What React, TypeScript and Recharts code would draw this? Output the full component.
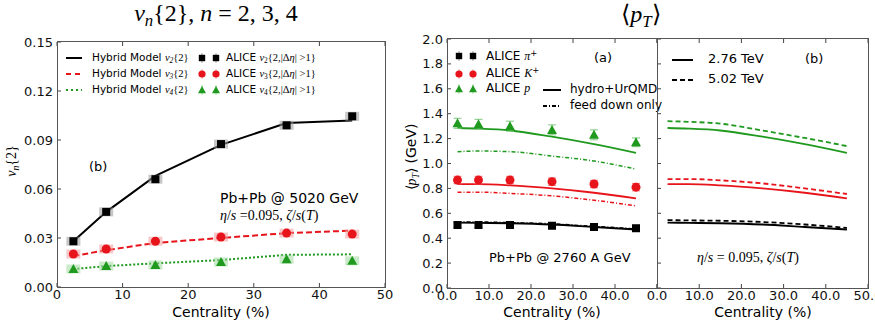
import React from "react"
import { ComposedChart, Line, Scatter, XAxis, YAxis, ErrorBar } from "recharts"

// centrality bins (%)
const centrality = [2.5, 7.5, 15, 25, 35, 45]

// left panel: v_n{2}, Pb+Pb 5020 GeV
const aliceV2 = [0.028, 0.046, 0.066, 0.0875, 0.099, 0.1045]
const aliceV3 = [0.0202, 0.0233, 0.028, 0.0306, 0.033, 0.0324]
const aliceV4 = [0.011, 0.0128, 0.0135, 0.0153, 0.017, 0.016]
const hybridV2 = [0.028, 0.046, 0.068, 0.087, 0.1004, 0.102]
const hybridV3 = [0.019, 0.0225, 0.027, 0.030, 0.033, 0.0345]
const hybridV4 = [0.011, 0.0128, 0.0145, 0.0165, 0.0197, 0.020]

// middle panel: <pT>, Pb+Pb 2760 A GeV
const pionAlice = [0.506, 0.506, 0.506, 0.5, 0.49, 0.48]
const kaonAlice = [0.867, 0.867, 0.867, 0.854, 0.835, 0.81]
const protonAlice = [1.323, 1.315, 1.3, 1.27, 1.23, 1.17]
const pionErr = [0.02, 0.02, 0.02, 0.02, 0.02, 0.02]
const kaonErr = [0.03, 0.03, 0.03, 0.03, 0.03, 0.03]
const protonErr = [0.04, 0.04, 0.04, 0.04, 0.04, 0.035]
const pionHydro = [0.525, 0.523, 0.52, 0.51, 0.49, 0.47]
const kaonHydro = [0.835, 0.835, 0.825, 0.8, 0.765, 0.72]
const protonHydro = [1.285, 1.28, 1.265, 1.215, 1.155, 1.085]
const pionFeed = [0.53, 0.53, 0.525, 0.515, 0.495, 0.475]
const kaonFeed = [0.77, 0.77, 0.76, 0.74, 0.705, 0.66]
const protonFeed = [1.095, 1.1, 1.095, 1.06, 1.02, 0.955]

// right panel: 2.76 TeV (= hydro above) vs 5.02 TeV
const pion502 = [0.545, 0.543, 0.54, 0.53, 0.51, 0.483]
const kaon502 = [0.875, 0.875, 0.865, 0.84, 0.8, 0.755]
const proton502 = [1.34, 1.335, 1.32, 1.265, 1.205, 1.14]

const vnTicks = [0, 0.03, 0.06, 0.09, 0.12, 0.15]
const ptTicks = [0, 0.2, 0.4, 0.6, 0.8, 1.0, 1.2, 1.4, 1.6, 1.8, 2.0]
const centTicks = [0, 10, 20, 30, 40, 50]

const vnData = centrality.map((c, i) => ({
  c,
  a2: aliceV2[i], a3: aliceV3[i], a4: aliceV4[i],
  h2: hybridV2[i], h3: hybridV3[i], h4: hybridV4[i],
}))

const ptData = centrality.map((c, i) => ({
  c,
  pi: pionAlice[i], k: kaonAlice[i], p: protonAlice[i],
  pie: pionErr[i], ke: kaonErr[i], pe: protonErr[i],
  piH: pionHydro[i], kH: kaonHydro[i], pH: protonHydro[i],
  piF: pionFeed[i], kF: kaonFeed[i], pF: protonFeed[i],
  pi5: pion502[i], k5: kaon502[i], p5: proton502[i],
}))

const BLACK = "#000000"
const RED = "#e8141b"
const GREEN = "#1f9a1f"
const AXIS = "#444444"
const SANS = "'DejaVu Sans', sans-serif"
const SERIF = "'Liberation Serif', serif"

function marker(kind: string, cx: number, cy: number, fill: string) {
  if (kind === "s") return <rect x={cx - 4} y={cy - 4} width={8} height={8} fill={fill} />
  if (kind === "o") return <circle cx={cx} cy={cy} r={4.5} fill={fill} />
  return <path d={`M${cx},${cy - 5} L${cx + 5},${cy + 4} L${cx - 5},${cy + 4} Z`} fill={fill} />
}

const withBox = (kind: string, fill: string, box: string) => (props: any) => {
  const { cx, cy } = props
  if (cx == null || cy == null) return <g />
  return (
    <g>
      <rect x={cx - 7} y={cy - 4.5} width={14} height={9} fill={box} opacity={0.55} />
      {marker(kind, cx, cy, fill)}
    </g>
  )
}

const plain = (kind: string, fill: string) => (props: any) => {
  const { cx, cy } = props
  if (cx == null || cy == null) return <g />
  return marker(kind, cx, cy, fill)
}

// matplotlib-like inward tick: mark + optional label, drawn at the axis position
const mkTick = (side: string, fmt?: (v: number) => string) => (props: any) => {
  const { x, y, payload } = props
  const v = payload?.value
  const label = fmt ? fmt(v) : ""
  const txt = { fontSize: 13, fill: "#111", fontFamily: SANS }
  const ln = { stroke: AXIS, strokeWidth: 1 }
  if (side === "bottom")
    return (
      <g>
        <line x1={x} y1={y} x2={x} y2={y - 4} {...ln} />
        {label && <text x={x} y={y + 2} dy="0.8em" textAnchor="middle" {...txt}>{label}</text>}
      </g>
    )
  if (side === "top") return <line x1={x} y1={y} x2={x} y2={y + 4} {...ln} />
  if (side === "left")
    return (
      <g>
        <line x1={x} y1={y} x2={x + 4} y2={y} {...ln} />
        {label && <text x={x - 4} y={y} dy="0.35em" textAnchor="end" {...txt}>{label}</text>}
      </g>
    )
  return <line x1={x} y1={y} x2={x - 4} y2={y} {...ln} />
}

function Frame({ yTicks, yDomain, yFmt, xFmt, yWidth }: any) {
  return [
    <XAxis key="xb" dataKey="c" type="number" domain={[0, 50]} ticks={centTicks} height={30}
      tickSize={0} tickMargin={0} axisLine={false} tickLine={false} tick={mkTick("bottom", xFmt)} interval={0} />,
    <XAxis key="xt" xAxisId="top" orientation="top" dataKey="c" type="number" domain={[0, 50]} ticks={centTicks} height={1}
      tickSize={0} tickMargin={0} axisLine={false} tickLine={false} tick={mkTick("top")} interval={0} />,
    <YAxis key="yl" type="number" domain={yDomain} ticks={yTicks} width={yWidth}
      tickSize={0} tickMargin={0} axisLine={false} tickLine={false} tick={mkTick("left", yFmt)} interval={0} />,
    <YAxis key="yr" yAxisId="r" orientation="right" type="number" domain={yDomain} ticks={yTicks} width={1}
      tickSize={0} tickMargin={0} axisLine={false} tickLine={false} tick={mkTick("right")} interval={0} />,
  ]
}

const abs = (left: number, top: number, extra: any = {}) => ({ position: "absolute" as const, left, top, whiteSpace: "nowrap" as const, ...extra })

// plot-area frame (box around each panel), kept above the chart layers
const box = (x0: number, y0: number, x1: number, y1: number) => (
  <div style={abs(x0, y0, { width: x1 - x0 + 1, height: y1 - y0 + 1, border: "1px solid #555555", boxSizing: "border-box", pointerEvents: "none", zIndex: 10 })} />
)

function LineSample({ color, dash, w = 18 }: any) {
  return (
    <svg width={w} height={8} style={{ verticalAlign: "middle" }}>
      <line x1={0} y1={4} x2={w} y2={4} stroke={color} strokeWidth={2} strokeDasharray={dash} />
    </svg>
  )
}

function MarkSample({ kind, color, err }: any) {
  return (
    <svg width={24} height={14} style={{ verticalAlign: "middle" }}>
      {[5, 19].map((x) => (
        <g key={x} transform={`translate(${x},7) scale(0.8) translate(${-x},-7)`}>
          <line x1={x} y1={1} x2={x} y2={13} stroke={err} strokeWidth={1} />
          {marker(kind, x, 7, color)}
        </g>
      ))}
    </svg>
  )
}

const vSub = (n: string) => (
  <span style={{ fontFamily: SERIF, fontStyle: "italic" }}>
    v<span style={{ fontSize: "0.7em", verticalAlign: "-0.3em" }}>{n}</span>
    <span style={{ fontStyle: "normal" }}>{"{2}"}</span>
  </span>
)

const aliceLbl = (n: string) => (
  <span style={{ fontFamily: SERIF }}>
    <i>v</i><span style={{ fontSize: "0.7em", verticalAlign: "-0.3em" }}>{n}</span>
    {"{2,|Δ"}<i>η</i>{"| >1}"}
  </span>
)

const sup = (s: string) => <span style={{ fontSize: "0.7em", verticalAlign: "0.45em" }}>{s}</span>

export default function App() {
  const legendRowsL = [
    { n: "2", c: BLACK, dash: undefined, k: "s", e: "#777" },
    { n: "3", c: RED, dash: "5 4", k: "o", e: "#f08080" },
    { n: "4", c: GREEN, dash: "2 3", k: "t", e: "#7fc97f" },
  ]
  const legendRowsM = [
    { t: <>ALICE <i style={{ fontFamily: SERIF }}>π</i>{sup("+")}</>, c: BLACK, k: "s", e: "#777" },
    { t: <>ALICE <i style={{ fontFamily: SERIF }}>K</i>{sup("+")}</>, c: RED, k: "o", e: "#f08080" },
    { t: <>ALICE <i style={{ fontFamily: SERIF }}>p</i></>, c: GREEN, k: "t", e: "#7fc97f" },
  ]
  return (
    <div style={{ position: "absolute", left: 0, top: 0, width: 875, height: 321, overflow: "hidden", background: "#fff", fontFamily: SANS }}>
      {/* left: v_n{2} */}
      <div style={abs(0, 0)}>
        <ComposedChart width={400} height={321} data={vnData} margin={{ top: 41, right: 14, bottom: 4, left: 7 }}>
          {Frame({ yTicks: vnTicks, yDomain: [0, 0.15], yFmt: (v: number) => v.toFixed(2), xFmt: (v: number) => String(v), yWidth: 50 })}
          <Line dataKey="h2" stroke={BLACK} strokeWidth={2} dot={false} isAnimationActive={false} />
          <Line dataKey="h3" stroke={RED} strokeWidth={2} strokeDasharray="6 3" dot={false} isAnimationActive={false} />
          <Line dataKey="h4" stroke={GREEN} strokeWidth={2} strokeDasharray="2 2" dot={false} isAnimationActive={false} />
          <Scatter dataKey="a2" shape={withBox("s", BLACK, "#999")} isAnimationActive={false} />
          <Scatter dataKey="a3" shape={withBox("o", RED, "#f39a9a")} isAnimationActive={false} />
          <Scatter dataKey="a4" shape={withBox("t", GREEN, "#9fd89f")} isAnimationActive={false} />
        </ComposedChart>
      </div>

      {/* middle: <pT> 2760 */}
      <div style={abs(400, 0)}>
        <ComposedChart width={260} height={321} data={ptData} margin={{ top: 38, right: 2, bottom: 3, left: 7 }}>
          {Frame({ yTicks: ptTicks, yDomain: [0, 2], yFmt: (v: number) => v.toFixed(1), xFmt: (v: number) => (v === 50 ? "" : v.toFixed(1)), yWidth: 40 })}
          <Line type="monotone" dataKey="pH" stroke={GREEN} strokeWidth={1.8} dot={false} isAnimationActive={false} />
          <Line type="monotone" dataKey="kH" stroke={RED} strokeWidth={1.8} dot={false} isAnimationActive={false} />
          <Line type="monotone" dataKey="piH" stroke={BLACK} strokeWidth={1.8} dot={false} isAnimationActive={false} />
          <Line type="monotone" dataKey="pF" stroke={GREEN} strokeWidth={1.5} strokeDasharray="4 2 1 2" dot={false} isAnimationActive={false} />
          <Line type="monotone" dataKey="kF" stroke={RED} strokeWidth={1.5} strokeDasharray="4 2 1 2" dot={false} isAnimationActive={false} />
          <Line type="monotone" dataKey="piF" stroke={BLACK} strokeWidth={1.5} strokeDasharray="4 2 1 2" dot={false} isAnimationActive={false} />
          <Scatter dataKey="p" shape={plain("t", GREEN)} isAnimationActive={false}>
            <ErrorBar dataKey="pe" direction="y" width={4} stroke="#7fc97f" strokeWidth={1} />
          </Scatter>
          <Scatter dataKey="k" shape={plain("o", RED)} isAnimationActive={false}>
            <ErrorBar dataKey="ke" direction="y" width={4} stroke="#f08080" strokeWidth={1} />
          </Scatter>
          <Scatter dataKey="pi" shape={plain("s", BLACK)} isAnimationActive={false}>
            <ErrorBar dataKey="pie" direction="y" width={4} stroke="#777" strokeWidth={1} />
          </Scatter>
        </ComposedChart>
      </div>

      {/* right: 2.76 vs 5.02 TeV */}
      <div style={abs(640, 0)}>
        <ComposedChart width={235} height={321} data={ptData} margin={{ top: 38, right: 6, bottom: 3, left: 16 }}>
          {Frame({ yTicks: ptTicks, yDomain: [0, 2], yFmt: undefined, xFmt: (v: number) => v.toFixed(1), yWidth: 1 })}
          <Line type="monotone" dataKey="pH" stroke={GREEN} strokeWidth={1.8} dot={false} isAnimationActive={false} />
          <Line type="monotone" dataKey="kH" stroke={RED} strokeWidth={1.8} dot={false} isAnimationActive={false} />
          <Line type="monotone" dataKey="piH" stroke={BLACK} strokeWidth={1.8} dot={false} isAnimationActive={false} />
          <Line type="monotone" dataKey="p5" stroke={GREEN} strokeWidth={1.8} strokeDasharray="5 3" dot={false} isAnimationActive={false} />
          <Line type="monotone" dataKey="k5" stroke={RED} strokeWidth={1.8} strokeDasharray="5 3" dot={false} isAnimationActive={false} />
          <Line type="monotone" dataKey="pi5" stroke={BLACK} strokeWidth={1.8} strokeDasharray="5 3" dot={false} isAnimationActive={false} />
        </ComposedChart>
      </div>

      {box(57, 41, 385, 287)}
      {box(447, 38, 657, 288)}
      {box(657, 38, 868, 288)}

      {/* titles */}
      <div style={abs(0, 0, { width: 432, textAlign: "center", fontFamily: SERIF, fontSize: 24 })}>
        <i>v</i><span style={{ fontSize: "0.7em", verticalAlign: "-0.3em" }}><i>n</i></span>{"{2}, "}<i>n</i>{" = 2, 3, 4"}
      </div>
      <div style={abs(600, 0, { width: 82, textAlign: "center", fontFamily: SERIF, fontSize: 24 })}>
        ⟨<i>p</i><span style={{ fontSize: "0.7em", verticalAlign: "-0.3em" }}><i>T</i></span>⟩
      </div>

      {/* axis labels */}
      <div style={abs(-18, 152, { width: 60, textAlign: "center", fontSize: 14, transform: "rotate(-90deg)" })}>
        {vSub("n")}
      </div>
      <div style={abs(372, 148, { width: 80, textAlign: "center", fontSize: 14, transform: "rotate(-90deg)" })}>
        <span style={{ fontFamily: SERIF }}>⟨<i>p</i><span style={{ fontSize: "0.7em", verticalAlign: "-0.3em" }}><i>T</i></span>⟩</span> (GeV)
      </div>
      <div style={abs(121, 304, { width: 200, textAlign: "center", fontSize: 14, lineHeight: "16px" })}>Centrality (%)</div>
      <div style={abs(452, 304, { width: 200, textAlign: "center", fontSize: 14, lineHeight: "16px" })}>Centrality (%)</div>
      <div style={abs(663, 304, { width: 200, textAlign: "center", fontSize: 14, lineHeight: "16px" })}>Centrality (%)</div>

      {/* left legend */}
      {legendRowsL.map((r, i) => (
        <div key={"l" + i} style={abs(66, 49 + i * 16, { fontSize: 10.5, lineHeight: "16px" })}>
          <LineSample color={r.c} dash={r.dash} w={16} />
          <span style={{ marginLeft: 10 }}>Hybrid Model {vSub(r.n)}</span>
        </div>
      ))}
      {legendRowsL.map((r, i) => (
        <div key={"a" + i} style={abs(197, 49 + i * 16, { fontSize: 10.5, lineHeight: "16px" })}>
          <MarkSample kind={r.k} color={r.c} err={r.e} />
          <span style={{ marginLeft: 5 }}>ALICE {aliceLbl(r.n)}</span>
        </div>
      ))}
      <div style={abs(89, 159, { fontSize: 13 })}>(b)</div>
      <div style={abs(220, 190, { fontSize: 14 })}>Pb+Pb @ 5020 GeV</div>
      <div style={abs(220, 208, { fontSize: 14, fontFamily: SERIF })}>
        <i>η</i>/<i>s</i> =0.095, <i>ζ</i>/<i>s</i>(<i>T</i>)
      </div>

      {/* middle legend */}
      {legendRowsM.map((r, i) => (
        <div key={"m" + i} style={abs(454, 45 + i * 17.5, { fontSize: 12, lineHeight: "17px" })}>
          <MarkSample kind={r.k} color={r.c} err={r.e} />
          <span style={{ marginLeft: 8 }}>{r.t}</span>
        </div>
      ))}
      <div style={abs(543, 81, { fontSize: 12, lineHeight: "17px" })}>
        <LineSample color={BLACK} w={18} />
        <span style={{ marginLeft: 9 }}>hydro+UrQMD</span>
      </div>
      <div style={abs(543, 97, { fontSize: 12, lineHeight: "17px" })}>
        <LineSample color={BLACK} dash="4 2 1 2" w={18} />
        <span style={{ marginLeft: 9 }}>feed down only</span>
      </div>
      <div style={abs(594, 50, { fontSize: 13 })}>(a)</div>
      <div style={abs(489, 250, { fontSize: 13 })}>Pb+Pb @ 2760 A GeV</div>

      {/* right legend */}
      <div style={abs(672, 49, { fontSize: 13, lineHeight: "20px" })}>
        <LineSample color={BLACK} w={21} />
        <span style={{ marginLeft: 15 }}>2.76 TeV</span>
      </div>
      <div style={abs(672, 69, { fontSize: 13, lineHeight: "20px" })}>
        <LineSample color={BLACK} dash="5 3" w={21} />
        <span style={{ marginLeft: 15 }}>5.02 TeV</span>
      </div>
      <div style={abs(805, 51, { fontSize: 13 })}>(b)</div>
      <div style={abs(697, 250, { fontSize: 14, fontFamily: SERIF })}>
        <i>η</i>/<i>s</i> = 0.095, <i>ζ</i>/<i>s</i>(<i>T</i>)
      </div>
    </div>
  )
}
